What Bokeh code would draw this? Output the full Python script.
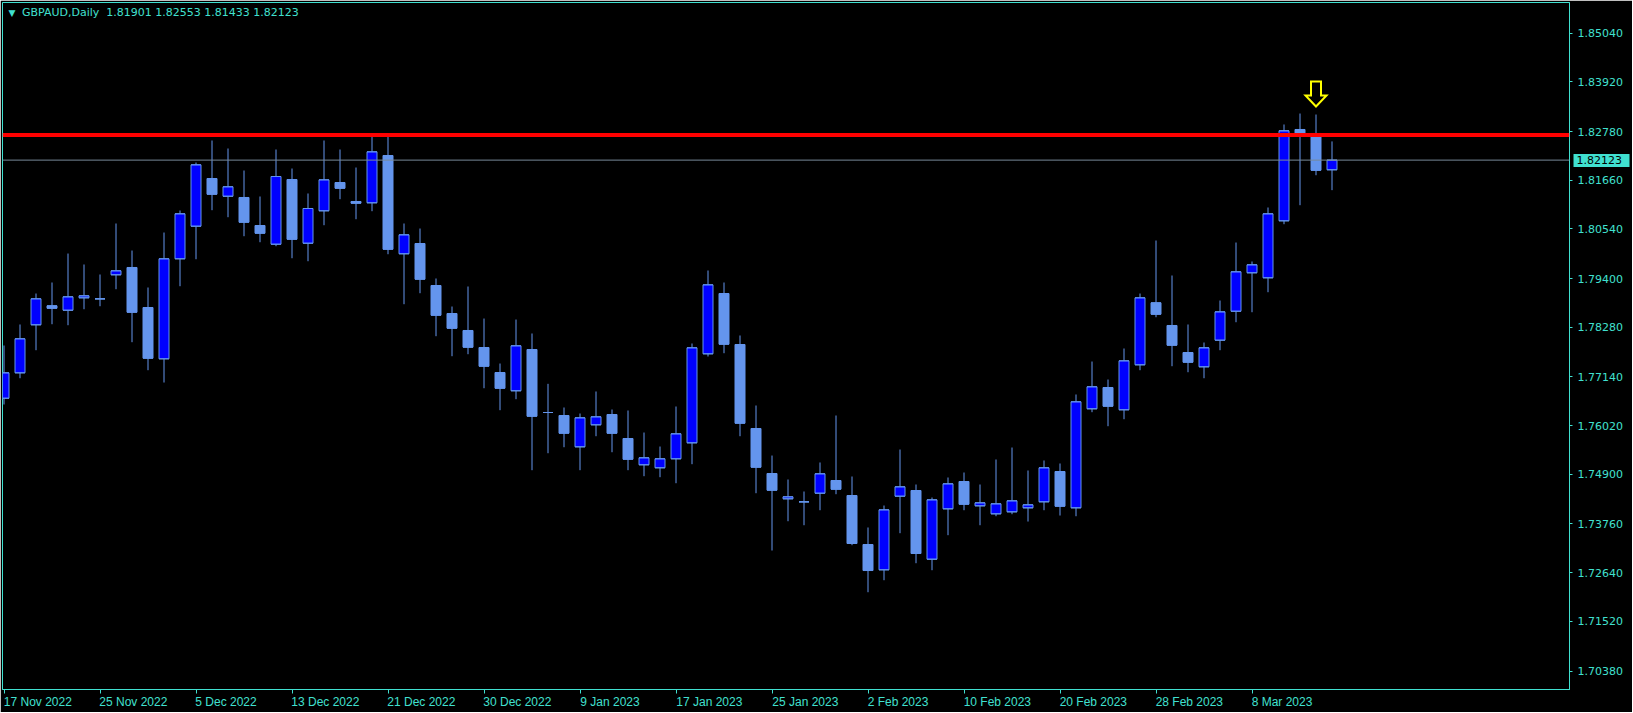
from bokeh.plotting import figure
from bokeh.models import (Range1d, FixedTicker, PrintfTickFormatter, Span, Label,
                          LinearAxis, ColumnDataSource)
from bokeh.embed import file_html
from bokeh.resources import INLINE

# ---------------- data ----------------
symbol = "GBPAUD,Daily"

opens = [1.76650, 1.77234, 1.78338, 1.78774, 1.78673, 1.78958, 1.78935, 1.79487, 1.79655, 1.78735,
         1.77556, 1.79855, 1.80604, 1.81700, 1.81293, 1.81264, 1.80620, 1.80190, 1.81677, 1.80213,
         1.80958, 1.81608, 1.81172, 1.81142, 1.82229, 1.79970, 1.80206, 1.79241, 1.78597, 1.78207,
         1.77816, 1.77241, 1.76821, 1.77770, 1.76322, 1.76253, 1.75533, 1.76039, 1.76276, 1.75724,
         1.75120, 1.75051, 1.75258, 1.75625, 1.77671, 1.79057, 1.77885, 1.75954, 1.74920, 1.74338,
         1.74269, 1.74467, 1.74759, 1.74414, 1.73288, 1.72706, 1.74398, 1.74529, 1.72950, 1.74108,
         1.74736, 1.74177, 1.73993, 1.74039, 1.74131, 1.74269, 1.74966, 1.74131, 1.76407, 1.76896,
         1.76384, 1.77418, 1.78843, 1.78322, 1.77701, 1.77372, 1.77984, 1.78650, 1.79533, 1.79418,
         1.80728, 1.82827, 1.82735, 1.81901]

highs = [1.77862, 1.78345, 1.79057, 1.79310, 1.79976, 1.79724, 1.79494, 1.80666, 1.80045, 1.79195,
         1.80459, 1.80965, 1.82068, 1.82574, 1.82390, 1.81884, 1.81287, 1.82367, 1.81930, 1.81356,
         1.82574, 1.82367, 1.81953, 1.82735, 1.82689, 1.80666, 1.80551, 1.79402, 1.78758, 1.79218,
         1.78482, 1.77448, 1.78459, 1.78138, 1.76981, 1.76437, 1.76299, 1.76805, 1.76391, 1.76368,
         1.75862, 1.75540, 1.76460, 1.77908, 1.79586, 1.79310, 1.78092, 1.76483, 1.75333, 1.74782,
         1.74506, 1.75173, 1.76253, 1.74851, 1.73679, 1.74184, 1.75471, 1.74667, 1.74368, 1.74828,
         1.74943, 1.74667, 1.75242, 1.75517, 1.74989, 1.75219, 1.75150, 1.76736, 1.77494, 1.77080,
         1.77793, 1.79057, 1.80275, 1.79471, 1.78345, 1.77931, 1.78896, 1.80229, 1.79793, 1.81034,
         1.82942, 1.83194, 1.83171, 1.82553]

lows = [1.76506, 1.77110, 1.77754, 1.78351, 1.78328, 1.78696, 1.78765, 1.79156, 1.77938, 1.77294,
        1.77011, 1.79225, 1.79845, 1.80972, 1.80811, 1.80374, 1.80236, 1.80144, 1.79868, 1.79799,
        1.80627, 1.81225, 1.80765, 1.80949, 1.79960, 1.78811, 1.79064, 1.78076, 1.77616, 1.77662,
        1.76880, 1.76375, 1.76628, 1.74996, 1.75386, 1.75524, 1.74996, 1.75777, 1.75409, 1.74996,
        1.74858, 1.74835, 1.74697, 1.75134, 1.77609, 1.77685, 1.75777, 1.74467, 1.73150, 1.73823,
        1.73731, 1.74076, 1.74444, 1.73272, 1.72191, 1.72467, 1.73548, 1.72858, 1.72697, 1.73502,
        1.74076, 1.73731, 1.73938, 1.73984, 1.73816, 1.74076, 1.73954, 1.73938, 1.76329, 1.76007,
        1.76168, 1.77294, 1.78512, 1.77386, 1.77248, 1.77110, 1.77754, 1.78397, 1.78627, 1.79087,
        1.80650, 1.81087, 1.81776, 1.81433]

closes = [1.77234, 1.78016, 1.78935, 1.78719, 1.78981, 1.79004, 1.78935, 1.79579, 1.78627, 1.77570,
          1.79855, 1.80889, 1.82015, 1.81339, 1.81510, 1.80696, 1.80443, 1.81746, 1.80305, 1.81011,
          1.81670, 1.81477, 1.81133, 1.82314, 1.80075, 1.80406, 1.79386, 1.78558, 1.78259, 1.77823,
          1.77386, 1.76880, 1.77855, 1.76237, 1.76322, 1.75846, 1.76200, 1.76223, 1.75846, 1.75248,
          1.75281, 1.75258, 1.75832, 1.77809, 1.79257, 1.77892, 1.76076, 1.75065, 1.74536, 1.74384,
          1.74269, 1.74913, 1.74559, 1.73311, 1.72690, 1.74085, 1.74614, 1.73081, 1.74315, 1.74683,
          1.74214, 1.74246, 1.74223, 1.74292, 1.74200, 1.75051, 1.74168, 1.76568, 1.76913, 1.76467,
          1.77510, 1.78958, 1.78581, 1.77869, 1.77478, 1.77809, 1.78636, 1.79556, 1.79717, 1.80889,
          1.82797, 1.82719, 1.81890, 1.82123]

date_tick_idx = [0, 6, 12, 18, 24, 30, 36, 42, 48, 54, 60, 66, 72, 78]
date_tick_labels = ["17 Nov 2022", "25 Nov 2022", "5 Dec 2022", "13 Dec 2022", "21 Dec 2022",
                    "30 Dec 2022", "9 Jan 2023", "17 Jan 2023", "25 Jan 2023", "2 Feb 2023",
                    "10 Feb 2023", "20 Feb 2023", "28 Feb 2023", "8 Mar 2023"]

price_ticks = [1.85040, 1.83920, 1.82780, 1.81660, 1.80540, 1.79400, 1.78280, 1.77140,
               1.76020, 1.74900, 1.73760, 1.72640, 1.71520, 1.70380]

resistance_level = 1.82698
bid_price = 1.82123
signal_idx = 82

# ---------------- style / layout ----------------
TEAL = "#40E0D0"
WICK = "#6495ED"
BULL = "#0000FF"
BEAR = "#6495ED"
ARROW = "#FFFF00"

BORDER_L = 2
FRAME_W = 1567
FRAME_H = 687
PX_PER_BAR = 16.0
PRICE_PER_PX = 0.00022985
TOP_PRICE = 1.85746
X_START = -0.09375

x_range = Range1d(X_START, X_START + FRAME_W / PX_PER_BAR)
y_range = Range1d(TOP_PRICE - FRAME_H * PRICE_PER_PX, TOP_PRICE)

p = figure(frame_width=FRAME_W, frame_height=FRAME_H, output_backend="svg",
           toolbar_location=None, x_range=x_range, y_range=y_range,
           background_fill_color="black", border_fill_color="black",
           min_border_left=BORDER_L, min_border_right=63, min_border_top=2, min_border_bottom=23,
           y_axis_location="right")

p.outline_line_color = TEAL
p.outline_line_width = 1
p.outline_line_alpha = 1.0
p.xgrid.visible = False
p.ygrid.visible = False

# ---- x axis (dates). Labels start at their tick (as in MetaTrader): the axis centres
# labels, so each one is led by no-break spaces about as wide as the text itself.
DATE_FONT_PX = 12
ARIAL_W = {"0": 556, "1": 556, "2": 556, "3": 556, "4": 556, "5": 556, "6": 556, "7": 556,
           "8": 556, "9": 556, " ": 278, "N": 722, "o": 556, "v": 500, "D": 722, "e": 556,
           "c": 500, "J": 500, "a": 556, "n": 556, "F": 611, "b": 556, "M": 833, "r": 333}
def lead_pad(i, s):
    w = sum(ARIAL_W.get(ch, 556) for ch in s)
    tick_px = BORDER_L + (i - X_START) * PX_PER_BAR
    if w * DATE_FONT_PX / 1000.0 > tick_px:   # would be pushed back inside the canvas
        return "\u00a0" + s
    return "\u00a0" * int(round(w / 278.0)) + s

xa = p.xaxis[0]
xa.ticker = FixedTicker(ticks=date_tick_idx)
xa.major_label_overrides = {i: lead_pad(i, s) for i, s in zip(date_tick_idx, date_tick_labels)}
xa.axis_line_color = TEAL
xa.major_tick_line_color = TEAL
xa.major_tick_out = 4
xa.major_tick_in = 0
xa.minor_tick_out = 0
xa.minor_tick_in = 0
xa.major_label_text_color = TEAL
xa.major_label_text_font = "Liberation Sans"
xa.major_label_text_font_size = f"{DATE_FONT_PX}px"
xa.major_label_standoff = 1

# ---- y axis (prices)
ya = p.yaxis[0]
ya.ticker = FixedTicker(ticks=price_ticks)
ya.formatter = PrintfTickFormatter(format="%.5f")
ya.axis_line_color = TEAL
ya.major_tick_line_color = TEAL
ya.major_tick_out = 3
ya.major_tick_in = 0
ya.minor_tick_out = 0
ya.minor_tick_in = 0
ya.major_label_text_color = TEAL
ya.major_label_text_font = "DejaVu Sans"
ya.major_label_text_font_size = "11px"
ya.major_label_standoff = 5

# ---- current bid marker on the price scale (teal box, black text): an outer right axis
# whose single tick is a thick teal bar reaching back over the price scale.
MAIN_AXIS_PX = 54          # approximate width taken by the price axis
BOX_START, BOX_END, TEXT_START = 2, 58, 5
bid_axis = LinearAxis(ticker=FixedTicker(ticks=[bid_price]),
                      formatter=PrintfTickFormatter(format="%.5f\u00a0\u00a0"))
bid_axis.axis_line_color = None
bid_axis.major_tick_line_color = TEAL
bid_axis.major_tick_line_width = 13
bid_axis.major_tick_line_cap = "butt"
bid_axis.major_tick_in = MAIN_AXIS_PX - BOX_START
bid_axis.major_tick_out = BOX_END - MAIN_AXIS_PX
bid_axis.minor_tick_out = 0
bid_axis.minor_tick_in = 0
bid_axis.major_label_standoff = TEXT_START - BOX_END
bid_axis.major_label_text_color = "black"
bid_axis.major_label_text_font = "DejaVu Sans"
bid_axis.major_label_text_font_size = "11px"
p.add_layout(bid_axis, "right")

# ---------------- candles ----------------
idx = list(range(len(opens)))
BODY_W = 0.625
src = ColumnDataSource(dict(
    x=idx, o=opens, h=highs, l=lows, c=closes,
    top=[max(o, c) for o, c in zip(opens, closes)],
    bottom=[min(o, c) for o, c in zip(opens, closes)],
    fill=[BULL if c > o else BEAR for o, c in zip(opens, closes)],
    x0=[i - BODY_W / 2 for i in idx],
    x1=[i + BODY_W / 2 for i in idx],
))

p.segment(x0="x", y0="l", x1="x", y1="h", line_color=WICK, line_width=1, source=src)
p.vbar(x="x", width=BODY_W, top="top", bottom="bottom", fill_color="fill",
       line_color=WICK, line_width=1, source=src)
# open/close edges so that doji candles show as a flat line
p.segment(x0="x0", y0="o", x1="x1", y1="o", line_color=WICK, line_width=1, source=src)
p.segment(x0="x0", y0="c", x1="x1", y1="c", line_color=WICK, line_width=1, source=src)

# ---------------- lines ----------------
p.add_layout(Span(location=bid_price, dimension="width", line_color="#778899", line_width=1))
p.add_layout(Span(location=resistance_level, dimension="width", line_color="#FF0000", line_width=4))

# ---------------- signal arrow (outline arrow above the candle's high) ----------------
# arrow shape in screen pixels relative to its tip (x right, y up)
arrow_px_x = [0, -10.5, -5, -5, 5, 5, 10.5]
arrow_px_y = [0, 11, 11, 25, 25, 11, 11]
tip_gap_px = 8
ax = [signal_idx + dx / PX_PER_BAR for dx in arrow_px_x]
ay = [highs[signal_idx] + (tip_gap_px + dy) * PRICE_PER_PX for dy in arrow_px_y]
p.patch(x=ax, y=ay, fill_color=None, line_color=ARROW, line_width=2, line_join="miter")

# ---------------- header ----------------
header = (f"{symbol}\u00a0\u00a0{opens[-1]:.5f} {highs[-1]:.5f} "
          f"{lows[-1]:.5f} {closes[-1]:.5f}")
p.add_layout(Label(x=6, y=FRAME_H - 10, x_units="screen", y_units="screen", text="\u25bc",
                   text_color=TEAL, text_font_size="9px", text_baseline="middle",
                   text_font="DejaVu Sans"))
p.add_layout(Label(x=19.5, y=FRAME_H - 10.3, x_units="screen", y_units="screen", text=header,
                   text_color=TEAL, text_font_size="11px", text_baseline="middle",
                   text_font="DejaVu Sans"))

open("out.html", "w").write(file_html(p, INLINE))
